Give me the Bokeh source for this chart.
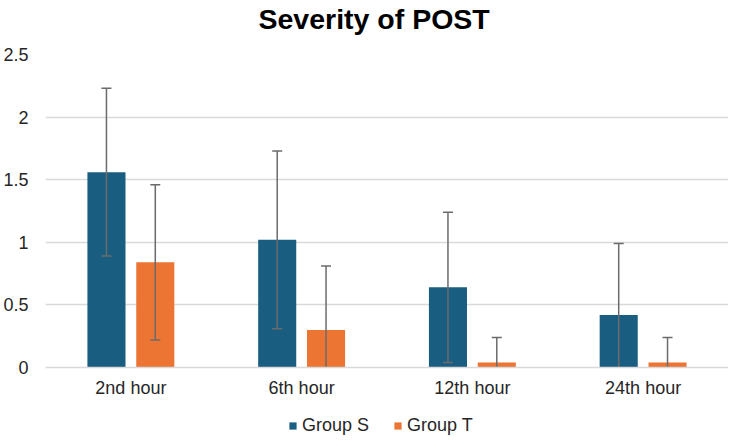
from bokeh.plotting import figure
from bokeh.models import (ColumnDataSource, FactorRange, Legend, LegendItem,
                          FixedTicker, Range1d)
from bokeh.layouts import column
from bokeh.core.properties import value
from bokeh.transform import dodge
from bokeh.embed import file_html
from bokeh.resources import INLINE

# ---- data ----
title_text = "Severity of POST"
hours = ["2nd hour", "6th hour", "12th hour", "24th hour"]
group_s = [1.56, 1.02, 0.64, 0.42]
group_t = [0.84, 0.30, 0.04, 0.04]
err_s = [0.67, 0.71, 0.60, 0.57]
err_t = [0.62, 0.51, 0.20, 0.20]
y_ticks = [0, 0.5, 1, 1.5, 2, 2.5]
series_names = ["Group S", "Group T"]

COL_S = "#195e80"
COL_T = "#ed7533"
ERR = "#6b6b6b"
TXT = "#262626"
FONT = "Liberation Sans"
W = 728
LEFT = 38

def err_src(vals, errs):
    hi = [v + e for v, e in zip(vals, errs)]
    lo = [max(0.0, v - e) for v, e in zip(vals, errs)]
    return ColumnDataSource(dict(x=hours, v=vals, hi=hi, lo=lo))

def low_caps(vals, errs):
    xs = [h for h, v, e in zip(hours, vals, errs) if v - e > 0]
    ys = [v - e for h, v, e in zip(hours, vals, errs) if v - e > 0]
    return ColumnDataSource(dict(x=xs, y=ys))

def bare(h, top):
    # frame spans x LEFT..W and y 0..h-top ; data units = pixels
    f = figure(width=W, height=h, x_range=Range1d(LEFT, W), y_range=Range1d(0, h - top),
               output_backend="svg", toolbar_location=None,
               x_axis_location=None, y_axis_location=None,
               min_border_left=LEFT, min_border_right=0, min_border_top=top, min_border_bottom=0)
    f.grid.visible = False
    f.outline_line_color = None
    return f

# ---- title strip (44 px) ----
pt = bare(44, 0)
pt.text(x=[370], y=[26], text=[title_text], text_align="center", text_baseline="alphabetic",
        text_font=value(FONT), text_font_style="bold", text_font_size="28.5px", text_color="#000000")

# ---- main chart ----
p = figure(x_range=FactorRange(*hours, range_padding=0), y_range=Range1d(0, 2.5),
           width=W, height=360, output_backend="svg", toolbar_location=None,
           min_border_left=LEFT, min_border_right=0, min_border_top=10, min_border_bottom=37)

off = 0.143
bw = 0.223
src_s = err_src(group_s, err_s)
src_t = err_src(group_t, err_t)

p.vbar(x=dodge("x", -off, range=p.x_range), top="v", width=bw, source=src_s,
       fill_color=COL_S, line_color=None)
p.vbar(x=dodge("x", off, range=p.x_range), top="v", width=bw, source=src_t,
       fill_color=COL_T, line_color=None)

for src, o, vals, errs in ((src_s, -off, group_s, err_s), (src_t, off, group_t, err_t)):
    xd = dodge("x", o, range=p.x_range)
    p.segment(x0=xd, y0="lo", x1=xd, y1="hi", source=src, line_color=ERR, line_width=1.5)
    p.scatter(x=xd, y="hi", source=src, marker="dash", size=10, line_color=ERR, line_width=1.5)
    lc = low_caps(vals, errs)
    p.scatter(x=dodge("x", o, range=p.x_range), y="y", source=lc, marker="dash", size=10,
              line_color=ERR, line_width=1.5)

p.yaxis.ticker = FixedTicker(ticks=y_ticks)
p.yaxis.major_label_overrides = {0: "0", 0.5: "0.5", 1: "1", 1.5: "1.5", 2: "2", 2.5: "2.5"}
p.yaxis.axis_line_color = None
p.yaxis.major_tick_line_color = None
p.yaxis.minor_tick_line_color = None
p.yaxis.major_label_standoff = 11
p.xaxis.axis_line_color = "#d9d9d9"
p.xaxis.axis_line_width = 1.5
p.xaxis.major_tick_line_color = None
p.xaxis.minor_tick_line_color = None
p.xaxis.major_label_standoff = 4
for ax in (p.xaxis, p.yaxis):
    ax.major_label_text_font = FONT
    ax.major_label_text_font_size = "18px"
    ax.major_label_text_color = TXT
p.xgrid.grid_line_color = None
p.ygrid.grid_line_color = "#d9d9d9"
p.ygrid.grid_line_width = 1.5
p.ygrid.ticker = FixedTicker(ticks=y_ticks)
p.outline_line_color = None

# ---- legend strip (32 px) ----
pl = bare(32, 10)
ls = pl.vbar(x=[-1000], top=[0], bottom=[0], width=1, fill_color=COL_S, line_color=None)
lt = pl.vbar(x=[-1000], top=[0], bottom=[0], width=1, fill_color=COL_T, line_color=None)
legend = Legend(items=[LegendItem(label=series_names[0], renderers=[ls]),
                       LegendItem(label=series_names[1], renderers=[lt])],
                orientation="horizontal", location=(243, 0),
                glyph_width=9, glyph_height=9, label_standoff=5, spacing=24,
                label_height=20,
                label_text_font=FONT, label_text_font_size="18px", label_text_color=TXT,
                border_line_color=None, background_fill_alpha=0, padding=0, margin=0)
pl.add_layout(legend, "center")

layout = column(pt, p, pl, spacing=0)
open("out.html", "w").write(file_html(layout, INLINE))
